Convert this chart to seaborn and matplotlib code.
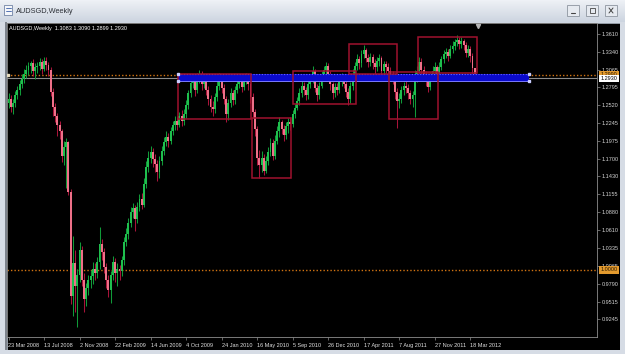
import numpy as np
import pandas as pd
import seaborn as sns
import matplotlib
matplotlib.use("Agg")
import matplotlib.pyplot as plt
from matplotlib.patches import Rectangle

# ---------------- data ----------------
symbol_title = "AUDSGD,Weekly"
header_text = "AUDSGD,Weekly  1.3083 1.3090 1.2899 1.2930"
first_open = 1.255
close = [
    1.262, 1.250, 1.256, 1.268, 1.275, 1.284, 1.292, 1.300, 1.306, 1.312,
    1.316, 1.304, 1.310, 1.312, 1.318, 1.308, 1.320, 1.314, 1.306, 1.272,
    1.250, 1.235, 1.222, 1.212, 1.175, 1.188, 1.195, 1.120, 0.960, 1.010,
    0.975, 0.992, 1.030, 0.985, 0.955, 0.972, 0.985, 0.990, 1.002, 0.995,
    1.012, 1.040, 1.028, 1.005, 0.985, 0.970, 0.992, 1.012, 0.995, 1.002,
    0.998, 1.015, 1.042, 1.055, 1.072, 1.088, 1.095, 1.078, 1.096, 1.108,
    1.100, 1.132, 1.158, 1.172, 1.180, 1.170, 1.162, 1.150, 1.166, 1.182,
    1.196, 1.204, 1.198, 1.212, 1.222, 1.228, 1.222, 1.235, 1.228, 1.238,
    1.252, 1.270, 1.286, 1.292, 1.275, 1.294, 1.300, 1.285, 1.292, 1.276,
    1.262, 1.250, 1.246, 1.264, 1.282, 1.294, 1.278, 1.262, 1.238, 1.256,
    1.270, 1.260, 1.276, 1.284, 1.290, 1.280, 1.292, 1.298, 1.285, 1.264,
    1.242, 1.215, 1.172, 1.160, 1.172, 1.152, 1.166, 1.180, 1.194, 1.175,
    1.198, 1.212, 1.226, 1.216, 1.206, 1.220, 1.226, 1.224, 1.238, 1.248,
    1.258, 1.270, 1.282, 1.275, 1.268, 1.284, 1.292, 1.305, 1.278, 1.268,
    1.282, 1.298, 1.306, 1.312, 1.300, 1.284, 1.270, 1.280, 1.276, 1.288,
    1.296, 1.285, 1.272, 1.262, 1.282, 1.300, 1.312, 1.322, 1.316, 1.330,
    1.336, 1.325, 1.318, 1.326, 1.316, 1.310, 1.320, 1.324, 1.305, 1.315,
    1.310, 1.304, 1.298, 1.292, 1.272, 1.258, 1.262, 1.275, 1.282, 1.278,
    1.270, 1.262, 1.268, 1.296, 1.305, 1.318, 1.306, 1.298, 1.292, 1.280,
    1.296, 1.305, 1.310, 1.300, 1.310, 1.322, 1.330, 1.334, 1.328, 1.338,
    1.342, 1.348, 1.352, 1.345, 1.350, 1.344, 1.332, 1.338, 1.328, 1.3083, 1.2930,
]
high = [
    1.270, 1.268, 1.262, 1.274, 1.282, 1.290, 1.300, 1.308, 1.314, 1.318,
    1.320, 1.322, 1.316, 1.318, 1.324, 1.322, 1.326, 1.326, 1.318, 1.310,
    1.278, 1.256, 1.240, 1.228, 1.216, 1.198, 1.202, 1.198, 1.124, 1.052,
    1.030, 1.002, 1.042, 1.036, 0.995, 0.980, 0.992, 1.000, 1.012, 1.010,
    1.020, 1.066, 1.048, 1.034, 1.010, 0.992, 0.998, 1.022, 1.018, 1.010,
    1.008, 1.022, 1.050, 1.064, 1.080, 1.096, 1.102, 1.100, 1.104, 1.116,
    1.118, 1.140, 1.166, 1.182, 1.190, 1.186, 1.178, 1.168, 1.174, 1.190,
    1.204, 1.212, 1.210, 1.218, 1.228, 1.236, 1.234, 1.242, 1.244, 1.246,
    1.260, 1.276, 1.292, 1.300, 1.296, 1.302, 1.306, 1.304, 1.298, 1.296,
    1.282, 1.268, 1.258, 1.270, 1.290, 1.302, 1.298, 1.284, 1.266, 1.262,
    1.278, 1.276, 1.282, 1.290, 1.296, 1.294, 1.298, 1.302, 1.300, 1.290,
    1.270, 1.246, 1.220, 1.184, 1.182, 1.178, 1.174, 1.188, 1.202, 1.200,
    1.206, 1.220, 1.234, 1.230, 1.222, 1.226, 1.232, 1.234, 1.244, 1.254,
    1.264, 1.278, 1.290, 1.288, 1.280, 1.290, 1.300, 1.312, 1.308, 1.284,
    1.288, 1.304, 1.312, 1.318, 1.316, 1.304, 1.288, 1.286, 1.286, 1.294,
    1.302, 1.300, 1.290, 1.278, 1.288, 1.308, 1.318, 1.330, 1.328, 1.336,
    1.344, 1.340, 1.330, 1.332, 1.330, 1.322, 1.326, 1.330, 1.328, 1.320,
    1.320, 1.316, 1.310, 1.304, 1.296, 1.278, 1.270, 1.282, 1.288, 1.290,
    1.284, 1.276, 1.274, 1.306, 1.312, 1.326, 1.324, 1.312, 1.304, 1.296,
    1.302, 1.312, 1.318, 1.314, 1.318, 1.328, 1.336, 1.340, 1.338, 1.344,
    1.350, 1.354, 1.359, 1.356, 1.356, 1.354, 1.348, 1.344, 1.342, 1.332, 1.3090,
]
low = [
    1.248, 1.242, 1.238, 1.250, 1.262, 1.268, 1.278, 1.286, 1.294, 1.298,
    1.302, 1.296, 1.292, 1.302, 1.306, 1.300, 1.304, 1.306, 1.296, 1.266,
    1.236, 1.226, 1.205, 1.200, 1.165, 1.160, 1.125, 1.115, 0.948, 0.930,
    0.935, 0.912, 0.982, 0.975, 0.935, 0.945, 0.962, 0.972, 0.978, 0.984,
    0.988, 1.002, 1.015, 0.996, 0.972, 0.958, 0.950, 0.985, 0.982, 0.975,
    0.984, 0.990, 1.008, 1.036, 1.048, 1.066, 1.080, 1.060, 1.072, 1.090,
    1.094, 1.096, 1.126, 1.150, 1.164, 1.158, 1.150, 1.136, 1.140, 1.160,
    1.176, 1.190, 1.188, 1.192, 1.206, 1.214, 1.214, 1.218, 1.220, 1.222,
    1.232, 1.246, 1.264, 1.278, 1.266, 1.270, 1.286, 1.276, 1.278, 1.268,
    1.252, 1.242, 1.236, 1.240, 1.258, 1.276, 1.270, 1.254, 1.226, 1.230,
    1.250, 1.252, 1.254, 1.270, 1.278, 1.272, 1.276, 1.284, 1.276, 1.256,
    1.232, 1.205, 1.160, 1.140, 1.150, 1.146, 1.148, 1.160, 1.174, 1.168,
    1.170, 1.192, 1.204, 1.208, 1.198, 1.200, 1.210, 1.214, 1.218, 1.232,
    1.244, 1.252, 1.264, 1.268, 1.260, 1.262, 1.278, 1.286, 1.272, 1.258,
    1.262, 1.278, 1.292, 1.300, 1.294, 1.276, 1.262, 1.264, 1.268, 1.270,
    1.282, 1.278, 1.264, 1.252, 1.256, 1.276, 1.294, 1.306, 1.308, 1.310,
    1.324, 1.318, 1.310, 1.312, 1.308, 1.300, 1.304, 1.312, 1.296, 1.298,
    1.302, 1.296, 1.290, 1.284, 1.262, 1.217, 1.248, 1.256, 1.268, 1.270,
    1.262, 1.254, 1.250, 1.234, 1.288, 1.298, 1.298, 1.290, 1.282, 1.272,
    1.276, 1.290, 1.300, 1.292, 1.296, 1.306, 1.316, 1.324, 1.320, 1.324,
    1.332, 1.336, 1.342, 1.338, 1.340, 1.336, 1.326, 1.326, 1.318, 1.300, 1.2899,
]
date_labels = ["23 Mar 2008", "13 Jul 2008", "2 Nov 2008", "22 Feb 2009",
               "14 Jun 2009", "4 Oct 2009", "24 Jan 2010", "16 May 2010",
               "5 Sep 2010", "26 Dec 2010", "17 Apr 2011", "7 Aug 2011",
               "27 Nov 2011", "18 Mar 2012"]
weeks_between_labels = 16
price_ticks = [1.3610, 1.3340, 1.3065, 1.2795, 1.2520, 1.2245, 1.1975, 1.1700,
               1.1430, 1.1155, 1.0880, 1.0610, 1.0335, 1.0065, 0.9790, 0.9515,
               0.9245]
level_lines = [1.2990, 1.0000]     # orange dotted horizontal lines
bid_price = 1.2930                 # current price line
blue_zone = (76.4, 234.5, 1.2890, 1.2998)   # bar index from/to, price low/high
red_boxes = [                      # bar index from/to, price low/high
    (76.4, 109.2, 1.2310, 1.2998),
    (109.7, 127.3, 1.1407, 1.2325),
    (128.2, 156.5, 1.2539, 1.3044),
    (153.4, 175.0, 1.2998, 1.3457),
    (171.4, 193.5, 1.2310, 1.3029),
    (184.5, 211.0, 1.3013, 1.3564),
]

# ---------------- frame ----------------
df = pd.DataFrame({"close": close, "high": high, "low": low})
df["open"] = [first_open] + close[:-1]
df["idx"] = np.arange(len(df))
df["bull"] = df["close"] >= df["open"]

W, H = 625, 354
sns.set_theme(style="dark")
plt.rcParams["font.family"] = ["Liberation Sans", "DejaVu Sans"]

fig = plt.figure(figsize=(W / 100, H / 100), dpi=100, facecolor="#ced6e1")

# window chrome in pixel coordinates
bg = fig.add_axes([0, 0, 1, 1], zorder=0)
bg.set_xlim(0, W)
bg.set_ylim(H, 0)
bg.axis("off")
grad = np.linspace(0, 1, 22).reshape(-1, 1)
bg.imshow(grad, extent=(0, W, 22, 0), aspect="auto",
          cmap=matplotlib.colors.LinearSegmentedColormap.from_list("t", ["#eef1f6", "#cdd5e0"]))
bg.add_patch(Rectangle((0, 22), 6, H - 22, fc="#d6dce5", ec="none"))
bg.add_patch(Rectangle((5, 22), 2, H - 26, fc="#7d838c", ec="none"))
bg.add_patch(Rectangle((7, 22.5), 613, 327.5, fc="black", ec="#9aa3ad", lw=0.6))
bg.add_patch(Rectangle((620, 22), 5, H - 22, fc="#d6dce5", ec="none"))
bg.add_patch(Rectangle((0, 350), W, 4, fc="#d6dce5", ec="none"))
# icon + title
bg.add_patch(Rectangle((4, 5), 8, 10, fc="#f4f6fa", ec="#5a6f96", lw=0.5))
bg.plot([5.5, 10.5], [8, 8], color="#3a5fa8", lw=0.6)
bg.plot([5.5, 10.5], [11, 11], color="#3a5fa8", lw=0.6)
bg.text(16, 11.5, symbol_title, fontsize=5.3, color="#2b2f36", va="center", ha="left")
for bx, sym in [(567, "min"), (586, "max"), (605, "close")]:
    bg.add_patch(Rectangle((bx, 5), 12, 11, fc="#e6eaf0", ec="#8d959f", lw=0.6))
    if sym == "min":
        bg.plot([bx + 4, bx + 8], [13, 13], color="#444", lw=0.8)
    elif sym == "max":
        bg.add_patch(Rectangle((bx + 3.5, 7.5), 5, 5, fc="none", ec="#444", lw=0.6))
    else:
        bg.plot([bx + 4, bx + 8], [8, 13], color="#444", lw=0.7)
        bg.plot([bx + 4, bx + 8], [13, 8], color="#444", lw=0.7)

# main chart axes
x_left_px, x_right_px, y_top_px, y_bot_px = 7, 597, 23, 337
ax = fig.add_axes([x_left_px / W, 1 - y_bot_px / H,
                   (x_right_px - x_left_px) / W, (y_bot_px - y_top_px) / H], zorder=2)
ax.set_facecolor("black")
px_per_bar = 2.22
ax.set_xlim(-1.5 / px_per_bar, (x_right_px - x_left_px - 1.5) / px_per_bar)
px_price = 0.00153
ax.set_ylim(1.3610 - (y_bot_px - 34) * px_price, 1.3610 + (34 - y_top_px) * px_price)

bull_body, bull_wick = "#1fbf4e", "#109a38"
bear_body, bear_wick = "#ee7088", "#a8143a"
wick_cols = np.where(df["bull"], bull_wick, bear_wick)
body_cols = np.where(df["bull"], bull_body, bear_body)
ax.vlines(df["idx"], df["low"], df["high"], colors=wick_cols, lw=0.75, zorder=3)
body_h = np.maximum((df["close"] - df["open"]).abs(), 0.0010)
ax.bar(df["idx"], body_h, bottom=np.minimum(df["open"], df["close"]),
       width=0.85, color=body_cols, linewidth=0, zorder=3)

# horizontal levels
for lv in level_lines:
    ax.axhline(lv, color="#d27412", ls=(0, (1, 1.5)), lw=1.0, zorder=2)
ax.axhline(bid_price, color="#8c8c8c", lw=0.8, zorder=2)
ax.plot([ax.get_xlim()[0] + 0.5], [level_lines[0]], marker="s", ms=1.8,
        color="#e8dcc0", zorder=6)

# blue zone
bx0, bx1, by0, by1 = blue_zone
ax.add_patch(Rectangle((bx0, by0), bx1 - bx0, by1 - by0, fc="#0a0acc", ec="none", zorder=4))
ax.plot([bx0, bx1], [by1 - 0.0007, by1 - 0.0007], color="#6a6aff", ls=(0, (1, 1.5)), lw=0.8, zorder=4)
ax.plot([bx0, bx1], [by0 + 0.0008, by0 + 0.0008], color="#7a7aff", lw=0.7, zorder=4)
for xx in (bx0, bx1):
    for yy in (by0, by1):
        ax.plot([xx], [yy], marker="s", ms=1.8, color="#c8ccff", zorder=6)

# red boxes
for (x0, x1, y0, y1) in red_boxes:
    ax.add_patch(Rectangle((x0, y0), x1 - x0, y1 - y0, fc="none",
                           ec="#a0122e", lw=1.1, zorder=5))

# header text and shift triangle
ax.text(0.004, 0.99, header_text, transform=ax.transAxes, color="white",
        fontsize=4.0, va="top", ha="left", zorder=7)
ax.plot([(478 - x_left_px - 1.5) / px_per_bar], [0.992], marker="v", ms=3,
        color="#b4b4b4", transform=ax.get_xaxis_transform(), clip_on=False, zorder=7)

# axes styling
for s in ax.spines.values():
    s.set_color("#8e8e8e")
    s.set_linewidth(0.6)
ax.grid(False)
ax.yaxis.tick_right()
ax.set_yticks(price_ticks)
ax.set_yticklabels([f"{v:.4f}" for v in price_ticks])
ax.tick_params(axis="y", colors="#8e8e8e", labelcolor="#d4d4d4", labelsize=4.0,
               length=2, width=0.5, pad=1.2, right=True, left=False)
ax.set_xticks(np.arange(len(date_labels)) * weeks_between_labels)
ax.set_xticklabels(date_labels)
for lab in ax.get_xticklabels():
    lab.set_ha("left")
ax.tick_params(axis="x", colors="#8e8e8e", labelcolor="#e0e0e0", labelsize=4.0,
               length=2.5, width=0.5, pad=1.5, bottom=True)
ax.set_xlabel("")
ax.set_ylabel("")

# price labels on the right scale
ytr = ax.get_yaxis_transform()
for val, fc, tc in [(level_lines[0], "#e39a2e", "#2a1a00"),
                    (bid_price, "white", "black"),
                    (level_lines[1], "#e39a2e", "#2a1a00")]:
    ax.text(1.006, val, f"{val:.4f}", transform=ytr, fontsize=4.0, color=tc,
            ha="left", va="center", zorder=8, clip_on=False,
            bbox=dict(boxstyle="square,pad=0.25", fc=fc, ec="none"))

fig.savefig("out.png", dpi=100, facecolor=fig.get_facecolor())
